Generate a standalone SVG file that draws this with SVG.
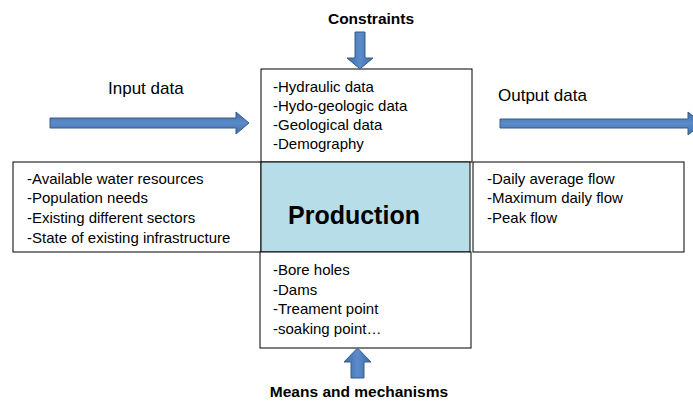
<svg xmlns="http://www.w3.org/2000/svg" width="693" height="406" viewBox="0 0 693 406">
<defs>
<linearGradient id="gh" x1="0" y1="0" x2="0" y2="1"><stop offset="0" stop-color="#3f6ea8"/><stop offset="0.5" stop-color="#5b8bc9"/><stop offset="1" stop-color="#3f6ea8"/></linearGradient>
<linearGradient id="gv" x1="0" y1="0" x2="1" y2="0"><stop offset="0" stop-color="#3f6ea8"/><stop offset="0.5" stop-color="#5b8bc9"/><stop offset="1" stop-color="#3f6ea8"/></linearGradient>
</defs>
<style>
.box{fill:#fff;stroke:#000;stroke-width:1}
.t{font-family:"Liberation Sans",Arial,sans-serif;font-size:15px;fill:#000}
.lbl{font-family:"Liberation Sans",Arial,sans-serif;font-size:17px;fill:#000}
.b{font-family:"Liberation Sans",Arial,sans-serif;font-size:15.5px;font-weight:bold;fill:#000}
.ah{fill:url(#gh);stroke:#385d8a;stroke-width:1}
.av{fill:url(#gv);stroke:#385d8a;stroke-width:1}
</style>
<rect width="693" height="406" fill="#fff"/>
<g id="constraints-box">
<rect class="box" x="261" y="69" width="211" height="93"/>
<text class="t" x="273" y="92">-Hydraulic data</text>
<text class="t" x="273" y="111">-Hydo-geologic data</text>
<text class="t" x="273" y="130">-Geological data</text>
<text class="t" x="273" y="149">-Demography</text>
</g>
<g id="input-box">
<rect class="box" x="13" y="162" width="248" height="90"/>
<text class="t" x="27" y="184">-Available water resources</text>
<text class="t" x="27" y="203">-Population needs</text>
<text class="t" x="27" y="223">-Existing different sectors</text>
<text class="t" x="27" y="243">-State of existing infrastructure</text>
</g>
<g id="production">
<rect x="261" y="162" width="209" height="90" fill="#b7dde8" stroke="#000" stroke-width="1"/>
<text x="288" y="224" font-family="Liberation Sans,Arial,sans-serif" font-size="25" font-weight="bold">Production</text>
</g>
<g id="output-box">
<rect class="box" x="473" y="162" width="211" height="90"/>
<text class="t" x="487" y="184">-Daily average flow</text>
<text class="t" x="487" y="203">-Maximum daily flow</text>
<text class="t" x="487" y="223">-Peak flow</text>
</g>
<g id="means-box">
<rect class="box" x="260" y="252" width="211" height="96"/>
<text class="t" x="273" y="275">-Bore holes</text>
<text class="t" x="273" y="295">-Dams</text>
<text class="t" x="273" y="314">-Treament point</text>
<text class="t" x="273" y="334">-soaking point…</text>
</g>
<g id="labels">
<text class="b" x="371" y="24" text-anchor="middle">Constraints</text>
<text class="lbl" x="108" y="94">Input data</text>
<text class="lbl" x="498" y="101">Output data</text>
<text class="b" x="359" y="397" text-anchor="middle">Means and mechanisms</text>
</g>
<g id="connectors">
<polygon class="ah" points="50,118 236,118 236,112 249,123 236,134 236,128 50,128"/>
<polygon class="ah" points="500,119 688,119 688,112 702,123.5 688,135 688,128 500,128"/>
<polygon class="av" points="355,32 365,32 365,58 373,58 360,69 347,58 355,58"/>
<polygon class="av" points="351,378 364,378 364,362 371,362 357.5,348 344,362 351,362"/>
</g>
</svg>
